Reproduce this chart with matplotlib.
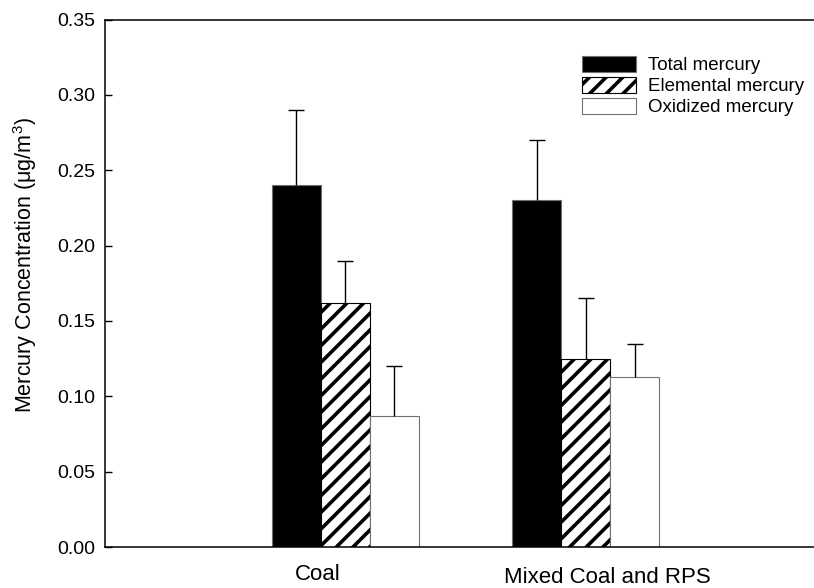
import matplotlib
matplotlib.use("Agg")
import matplotlib.pyplot as plt
import matplotlib.transforms as mtransforms
import numpy as np

plt.rcParams["font.family"] = ["Liberation Sans", "DejaVu Sans"]
plt.rcParams["mathtext.fontset"] = "custom"
plt.rcParams["mathtext.rm"] = "Liberation Sans"
plt.rcParams["mathtext.it"] = "Liberation Sans:italic"
plt.rcParams["hatch.linewidth"] = 2.6

# data
groups = ["Coal", "Mixed Coal and RPS"]
series = ["Total mercury", "Elemental mercury", "Oxidized mercury"]
total_mean = [0.240, 0.230]
total_err = [0.050, 0.040]
elemental_mean = [0.162, 0.125]
elemental_err = [0.028, 0.040]
oxidized_mean = [0.087, 0.113]
oxidized_err = [0.033, 0.022]

means = [total_mean, elemental_mean, oxidized_mean]
errs = [total_err, elemental_err, oxidized_err]
styles = [
    dict(color="black", edgecolor="#707070", hatch=None),
    dict(color="white", edgecolor="black", hatch="//"),
    dict(color="white", edgecolor="#707070", hatch=None),
]

fig = plt.figure(figsize=(8.14, 5.88), dpi=100)
ax = fig.add_axes([0.129, 0.0697, 0.886, 0.897])

x = np.arange(len(groups))
width = 0.204
for index, (label, vals, err, style) in enumerate(zip(series, means, errs, styles)):
    pos = x + (index - 1) * width
    ax.bar(pos, vals, width=width, label=label, linewidth=0.8, **style)
    eb = ax.errorbar(pos, vals, yerr=[np.zeros(len(err)), err], fmt="none",
                     ecolor="black", elinewidth=1.0, capsize=5.8, capthick=1.0)
    # only the upper cap is drawn in the original
    eb[1][0].set_visible(False)

ax.set_xlim(-1, 2)
ax.set_ylim(0, 0.35)
ticks = np.arange(0, 0.351, 0.05)
ax.set_yticks(ticks)
ax.set_yticklabels([f"{v:.2f}" for v in ticks])
ax.tick_params(axis="y", direction="in", length=5, width=1, pad=7, labelsize=14)
ax.tick_params(axis="x", length=0, labelbottom=False)
ax.spines["right"].set_visible(False)
for side in ["left", "bottom", "top"]:
    ax.spines[side].set_linewidth(1.1)

ax.set_ylabel("Mercury Concentration (μg/m$^{3}$)", fontsize=15.5)
ax.yaxis.set_label_coords(-0.091, 0.535)

# category labels sit slightly off the group centres in the original
label_shift = [-0.114, 0.089]
label_y = [-0.052, -0.057]
trans = mtransforms.blended_transform_factory(ax.transData, ax.transAxes)
for pos, name, dx, ly in zip(x, groups, label_shift, label_y):
    ax.text(pos + dx, ly, name, transform=trans, ha="center", va="center", fontsize=16)

ax.legend(loc="upper left", bbox_to_anchor=(582 / 814, 1 - 56 / 588),
          bbox_transform=fig.transFigure, frameon=False, fontsize=13.5,
          borderpad=0, borderaxespad=0, handlelength=2.9, handleheight=0.9,
          handletextpad=0.6, labelspacing=0.15)

fig.savefig("out.png", dpi=100)
plt.close(fig)
